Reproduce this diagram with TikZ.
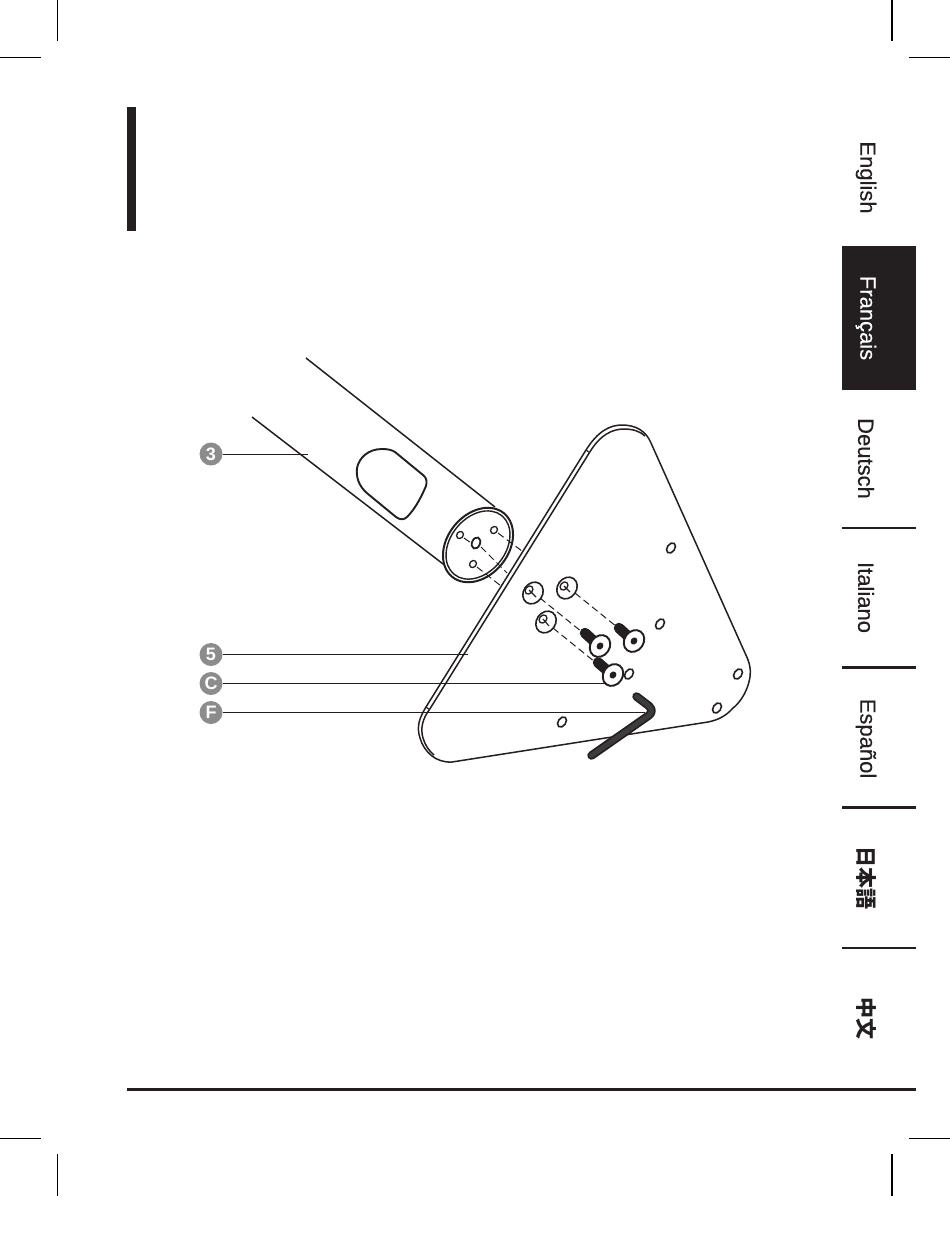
\documentclass[tikz,border=0pt]{standalone}
\usepackage{fontspec}
\setmainfont{Liberation Sans}
\newfontfamily\tabfont{Liberation Sans}[FakeBold=0.35]
\newfontfamily\cjkfont{Noto Sans CJK JP}
\definecolor{ink}{HTML}{231F20}
\definecolor{badge}{HTML}{8C8C8C}
\definecolor{keycol}{HTML}{3C3C3C}
\tikzset{
  crop/.style={line width=1.1pt,black},
  tabtext/.style={rotate=-90,inner sep=0pt,font=\fontsize{22}{24}\tabfont,text=ink},
  cjktext/.style={rotate=-90,inner sep=0pt,font=\fontsize{21}{24}\cjkfont\bfseries,text=ink},
  sep/.style={line width=2.6pt,ink},
  part/.style={line width=1.5pt,ink},
  thinpart/.style={line width=1.1pt,ink},
  badgenode/.style={circle,fill=badge,minimum size=23pt,inner sep=0pt,text=white,font=\fontsize{18}{18}\selectfont\bfseries},
  leader/.style={line width=1pt,ink},
  hidden/.style={line width=1pt,ink,dash pattern=on 7pt off 4pt},
  hole/.style={line width=1.6pt,ink,fill=white},
  shaft/.style={line width=10.5pt,ink,line cap=round},
}
\newcommand{\holeat}[2]{\draw[hole] (#1,#2) ellipse [x radius=5.6pt,y radius=3.8pt,rotate=55];}
\newcommand{\tinyhole}[2]{\draw[hole,line width=1.3pt] (#1,#2) ellipse [x radius=3.8pt,y radius=3.2pt,rotate=50];}
\newcommand{\washer}[4]{%
  \draw[hole] (#1,#2) ellipse [x radius=11.5pt,y radius=9.5pt,rotate=55];
  \draw[hole,line width=1.3pt] (#3,#4) ellipse [x radius=4.5pt,y radius=3.5pt,rotate=50];
  \draw[thinpart] (#3,#4) -- (#1+3,#2+4);}
\newcommand{\screw}[6]{%
  \draw[shaft] (#1,#2) -- (#3,#4);
  \draw[line width=1.9pt,ink,fill=white] (#5,#6) ellipse [x radius=11.5pt,y radius=9.6pt,rotate=55];
  \fill[ink] (#5,#6) ellipse [x radius=3.8pt,y radius=3.2pt,rotate=55];}
\begin{document}
\begin{tikzpicture}[x=1pt,y=-1pt]
\useasboundingbox (0,0) rectangle (950,1243);
% crop marks
\draw[crop] (57.5,0) -- (57.5,41);
\draw[crop] (0,57.5) -- (41,57.5);
\draw[crop] (892,0) -- (892,41);
\draw[crop] (909,57.5) -- (950,57.5);
\draw[crop] (0,1138.5) -- (41,1138.5);
\draw[crop] (57.5,1154) -- (57.5,1196);
\draw[crop] (909,1138.5) -- (950,1138.5);
\draw[crop] (892,1154) -- (892,1196);
% page furniture
\fill[ink] (127,107) rectangle (135.5,231);
\fill[ink] (127,1087.5) rectangle (916,1091);
\fill[ink] (842,246) rectangle (916,390);
\draw[sep] (842,528) -- (916,528);
\draw[sep] (842,667.5) -- (916,667.5);
\draw[sep] (842,807.5) -- (916,807.5);
\draw[sep] (842,948) -- (916,948);
% language tabs
\node[tabtext] (en) at (866,177.5) {English};
\node[tabtext,text=white] (fr) at (866,318) {Français};
\node[tabtext] (de) at (866,458.5) {Deutsch};
\node[tabtext] (it) at (866,597.5) {Italiano};
\node[tabtext] (es) at (866,738.5) {Español};
\node[cjktext] (ja) at (866,878) {日本語};
\node[cjktext] (zh) at (866,1018) {中文};
% plate
\draw[part,line join=round] (586,450)
  .. controls (598,431) and (610,425) .. (622,425)
  .. controls (636,425) and (646,431) .. (651,443)
  -- (745,653)
  .. controls (750,663) and (751,670) .. (750,677)
  .. controls (747,695) and (737,705) .. (733,708)
  .. controls (726,716) and (718,720) .. (708,722)
  -- (452,762)
  .. controls (436,763) and (424,752) .. (420,738)
  .. controls (416,726) and (420,717) .. (426,707)
  -- cycle;
\draw[part] (429.5,709.5) -- (589.5,452.5);
\draw[part] (589.5,452.5) .. controls (600,435) and (612,429) .. (624,429)
  .. controls (632,429) and (640,431) .. (645,436);
\draw[part] (429.5,709.5) .. controls (423,718) and (420,728) .. (423,738)
  .. controls (425,745) and (429,751) .. (434,755);
\draw[thinpart] (426,707) -- (429.5,709.5);
\draw[thinpart] (586,450) -- (589.5,452.5);
% plate holes
\holeat{671}{548}
\holeat{660}{624}
\holeat{629}{674}
\holeat{562}{722}
\holeat{738}{674}
\holeat{717}{708}
% tube
\draw[part] (306,358) -- (495,507);
\draw[part] (252,417) -- (447,567);
\draw[line width=1.9pt,ink] (382,449)
  .. controls (388,449) and (392,450) .. (395,452)
  -- (423,475)
  .. controls (427,478) and (427,482) .. (426,486)
  .. controls (420,500) and (414,510) .. (407,517)
  .. controls (404,520) and (400,520) .. (396,517)
  -- (368,494)
  .. controls (358,486) and (356,476) .. (357,468)
  .. controls (359,458) and (368,449) .. (382,449) -- cycle;
% tube end
\draw[line width=2pt,ink,fill=white] (478,545) ellipse [x radius=41pt,y radius=30.5pt,rotate=51];
\draw[line width=1.4pt,ink] (478,545) ellipse [x radius=37.8pt,y radius=27.5pt,rotate=51];
\tinyhole{460}{535}
\tinyhole{494}{530}
\tinyhole{473}{564}
\draw[line width=1.8pt,ink,fill=white] (476,543) ellipse [x radius=5.8pt,y radius=4pt,rotate=68];
% hidden lines tube to plate
\draw[hidden] (464,538) -- (471,543);
\draw[hidden] (481,547) -- (507,573);
\draw[hidden] (498,533) -- (522,551);
\draw[hidden] (477,567) -- (501,586);
% hidden lines washers to screws
\draw[hidden] (540,598) -- (582,632);
\draw[hidden] (575,593) -- (617,627);
\draw[hidden] (553,628) -- (595,662);
% washers
\washer{533}{593}{529}{590}
\washer{567}{588}{564}{586}
\washer{546}{622}{543}{619}
% screws
\screw{585}{633}{596}{643}{600}{646}
\screw{619}{628}{630}{638}{634}{641}
\screw{598}{662.5}{609}{672}{613}{675}
% hex key
\draw[line width=8.5pt,ink,line join=round,line cap=round] (636.5,696.5) -- (649,706)
  .. controls (653,710) and (652,713) .. (648,716) -- (591.5,755.5);
\draw[line width=5pt,keycol,line join=round,line cap=round] (636.5,696.5) -- (649,706)
  .. controls (653,710) and (652,713) .. (648,716) -- (591.5,755.5);
% badges and leaders
\node[badgenode] (b3) at (211,454) {3};
\node[badgenode] (b5) at (211,654.5) {5};
\node[badgenode] (bC) at (211,683.5) {C};
\node[badgenode] (bF) at (211,712.5) {F};
\coordinate (t3) at (308,454);
\coordinate (t5) at (468,654.5);
\coordinate (tC) at (607,683.5);
\coordinate (tF) at (645,712.5);
\draw[leader] (b3) -- (t3);
\draw[leader] (b5) -- (t5);
\draw[leader] (bC) -- (tC);
\draw[leader] (bF) -- (tF);
\end{tikzpicture}
\end{document}
